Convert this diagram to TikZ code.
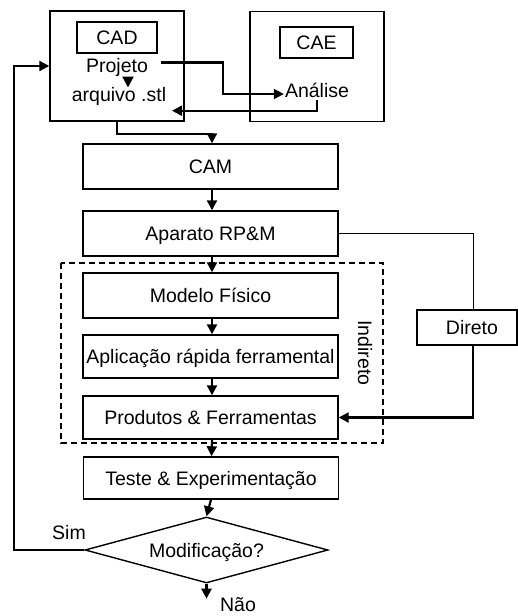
\documentclass[tikz,border=0pt]{standalone}
\usepackage{fontspec}
\setmainfont{Liberation Sans}
\usetikzlibrary{arrows.meta,shapes.geometric}
\begin{document}
\begin{tikzpicture}[x=1pt,y=-1pt,
  font=\fontsize{19.5}{23}\selectfont,
  frame/.style={draw,line width=1.4pt,inner sep=0pt},
  stage/.style={frame,minimum width=255pt,text height=14pt,text depth=0pt},
  tag/.style={inner sep=0pt,text height=14pt,text depth=0pt},
  conn/.style={line width=2.2pt,-{Triangle[length=10pt,width=10pt]}},
]
\useasboundingbox (0,0) rectangle (518,616);

% CAD / CAE blocks
\node[frame,minimum width=134pt,minimum height=110pt] (cad) at (117,66) {};
\node[frame,minimum width=80pt,minimum height=31pt,text height=14pt,text depth=0pt] (cadlbl) at (117,37.5) {CAD};
\node[tag] (proj) at (117,65.5) {Projeto};
\node[tag] (arq) at (119,94.7) {arquivo .stl};
\node[frame,minimum width=134pt,minimum height=110pt] (cae) at (317,66.5) {};
\node[frame,minimum width=73pt,minimum height=31pt,text height=14pt,text depth=0pt] (caelbl) at (316.5,42.5) {CAE};
\node[tag] (anal) at (317,90) {Análise};

% main chain
\node[stage,minimum height=45pt] (cam) at (210.5,166.5) {CAM};
\node[stage,minimum height=45pt] (rpm) at (210.5,233.5) {Aparato RP\&M};
\node[stage,minimum height=45pt] (mod) at (210.5,295.5) {Modelo Físico};
\node[stage,minimum height=43pt] (apl) at (210.5,356.5) {Aplicação rápida ferramental};
\node[stage,minimum height=43pt] (prod) at (210.5,417.5) {Produtos \& Ferramentas};
\node[stage,minimum height=42pt] (teste) at (211,478) {Teste \& Experimentação};
\node[frame,shape=diamond,aspect=3.68,minimum width=243pt,minimum height=66pt,text height=14pt,text depth=0pt] (dec) at (206.5,550) {Modificação?};

% indirect route frame
\draw[line width=1.8pt,dash pattern=on 6pt off 4pt] (61,263) rectangle (383,443);
\node[tag,rotate=-90] (ind) at (365,353) {Indireto};

% direct route
\node[frame,minimum width=100pt,minimum height=35pt,text height=14pt,text depth=0pt] (dir) at (467,327.5) {\hspace*{10pt}Direto};

\node[tag] (sim) at (69,532) {Sim};
\node[tag] (nao) at (238,604) {Não};

\coordinate (bend) at (223,80);
\coordinate (back) at (172,110.7);

% connectors
\draw[conn,-{Triangle[length=11pt,width=11pt]}] ([xshift=11pt,yshift=-4.5pt]proj.south) -- ([xshift=9pt]arq.north);
\draw[conn] ([xshift=13pt,yshift=3pt]proj.east) -| (bend) |- ([xshift=-1pt,yshift=-4pt]anal.west);
\draw[conn] ([yshift=-3pt]anal.south) |- (back);
\draw[conn] (cad.south) -- ++(0,12) -| ([xshift=1.5pt]cam.north);
\draw[conn] ([xshift=1.5pt]cam.south) -- ([xshift=1.5pt]rpm.north);
\draw[conn] ([xshift=1.5pt]rpm.south) -- ([xshift=1.5pt]mod.north);
\draw[conn] ([xshift=1.5pt]mod.south) -- ([xshift=1.5pt]apl.north);
\draw[conn] ([xshift=1.5pt]apl.south) -- ([xshift=1.5pt]prod.north);
\draw[conn] ([xshift=1.5pt]prod.south) -- ([xshift=0.5pt]teste.north);
\draw[conn] (teste.south) -- (dec.north);
\draw[line width=1pt] (rpm.east) -| ([xshift=6pt]dir.north);
\draw[conn] ([xshift=6pt]dir.south) |- (prod.east);
\draw[conn] (dec.west) -- ++(-70,0) |- (cad.west);
\draw[conn] (dec.south) -- ++(0,15);
\end{tikzpicture}
\end{document}
